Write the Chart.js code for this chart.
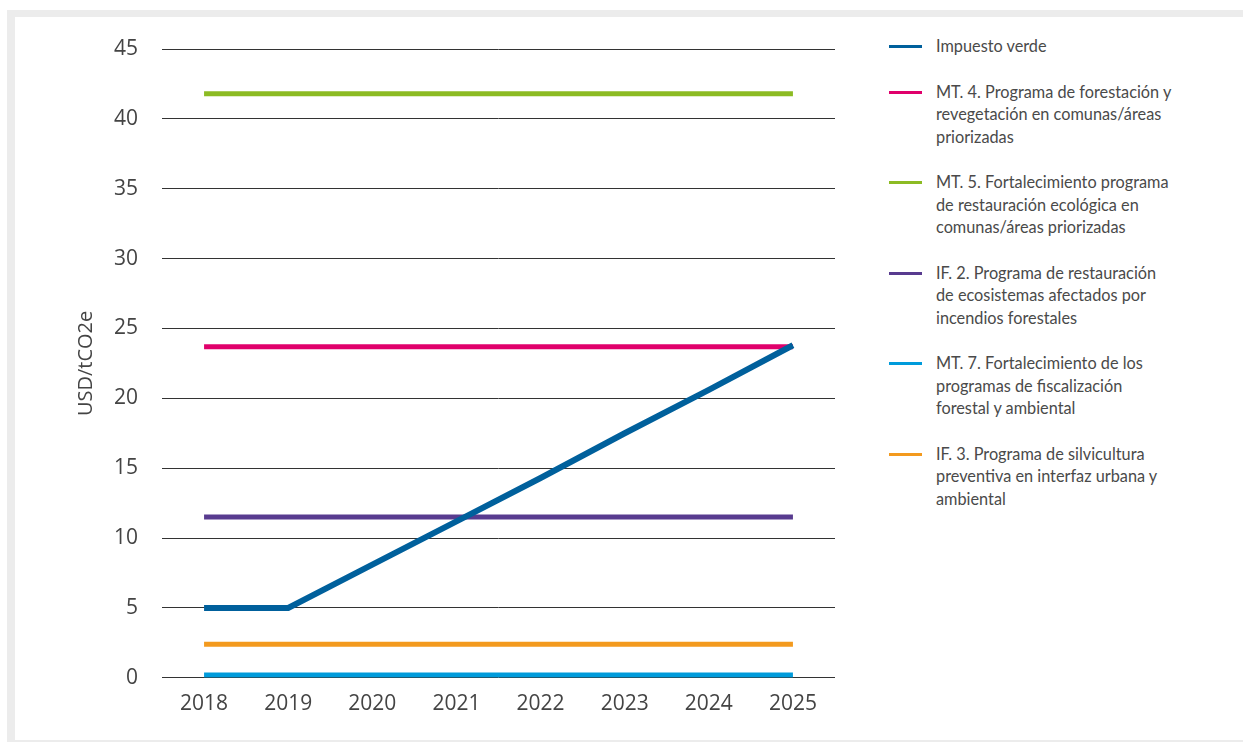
<!DOCTYPE html>
<html lang="es">
<head>
<meta charset="utf-8">
<title>Precio del carbono - USD/tCO2e</title>
<script src="https://cdn.jsdelivr.net/npm/chart.js@4"></script>
<style>
  html, body {
    margin: 0;
    padding: 0;
    background: #ffffff;
  }
  .frame {
    position: absolute;
    left: 7px;
    top: 10px;
    width: 1240px;
    height: 723px;
    border-top: 7px solid #ececec;
    border-left: 8px solid #ececec;
    border-bottom: 2px solid #ececec;
  }
  .chart-box {
    position: absolute;
    left: 0;
    top: 0;
    width: 860px;
    height: 742px;
  }
  #legend {
    position: absolute;
    left: 889px;
    top: 35px;
    font-family: Lato, 'Open Sans', sans-serif;
    font-size: 16.3px;
    line-height: 22.5px;
    color: #4a4a4a;
  }
  #legend .item {
    display: flex;
    align-items: flex-start;
    margin-bottom: 23px;
  }
  #legend .swatch {
    width: 33px;
    height: 3px;
    margin-top: 10px;
    margin-right: 14px;
    flex: none;
  }
  #legend .text {
    white-space: pre-line;
  }
</style>
</head>
<body>
<div class="frame"></div>
<div class="chart-box"><canvas id="myChart"></canvas></div>
<div id="legend"></div>

<script>
  // años del horizonte
  const years = ['2018', '2019', '2020', '2021', '2022', '2023', '2024', '2025'];

  // costos por medida, USD/tCO2e
  const impuestoVerde = [5, 5, 8.1, 11.2, 14.3, 17.5, 20.6, 23.8];
  const mt4 = [23.7, 23.7, 23.7, 23.7, 23.7, 23.7, 23.7, 23.7];
  const mt5 = [41.8, 41.8, 41.8, 41.8, 41.8, 41.8, 41.8, 41.8];
  const if2 = [11.5, 11.5, 11.5, 11.5, 11.5, 11.5, 11.5, 11.5];
  const mt7 = [0.2, 0.2, 0.2, 0.2, 0.2, 0.2, 0.2, 0.2];
  const if3 = [2.4, 2.4, 2.4, 2.4, 2.4, 2.4, 2.4, 2.4];

  const yTicks = [0, 5, 10, 15, 20, 25, 30, 35, 40, 45];

  const series = [
    { label: 'Impuesto verde', data: impuestoVerde, color: '#00609c', width: 6 },
    { label: 'MT. 4. Programa de forestación y\nrevegetación en comunas/áreas\npriorizadas', data: mt4, color: '#e0006b', width: 5 },
    { label: 'MT. 5. Fortalecimiento programa\nde restauración ecológica en\ncomunas/áreas priorizadas', data: mt5, color: '#8cbb23', width: 5 },
    { label: 'IF. 2. Programa de restauración\nde ecosistemas afectados por\nincendios forestales', data: if2, color: '#583b8f', width: 5 },
    { label: 'MT. 7. Fortalecimiento de los\nprogramas de fiscalización\nforestal y ambiental', data: mt7, color: '#009bdb', width: 5 },
    { label: 'IF. 3. Programa de silvicultura\npreventiva en interfaz urbana y\nambiental', data: if3, color: '#f39a1e', width: 5 },
  ];

  const dataChart = {
    labels: years,
    datasets: series.map((s) => ({
      label: s.label,
      data: s.data,
      borderColor: s.color,
      backgroundColor: s.color,
      borderWidth: s.width,
      borderCapStyle: 'butt',
      borderJoinStyle: 'miter',
      pointRadius: 0,
      pointHoverRadius: 0,
      tension: 0,
    })),
  };

  const config = {
    type: 'line',
    data: dataChart,
    options: {
      responsive: true,
      maintainAspectRatio: false,
      animation: false,
      layout: {
        padding: { top: 49, right: 25, bottom: 11, left: 0 },
      },
      plugins: {
        legend: { display: false },
        tooltip: { enabled: false },
      },
      scales: {
        x: {
          offset: true,
          grid: { display: false, drawTicks: false },
          border: { display: false },
          ticks: {
            padding: 14,
            color: '#444444',
            font: { family: "'Open Sans'", size: 21 },
            maxRotation: 0,
          },
        },
        y: {
          min: 0,
          max: 45,
          afterBuildTicks: (scale) => {
            scale.ticks = yTicks.map((v) => ({ value: v }));
          },
          afterFit: (scale) => {
            scale.width = 162;
          },
          grid: {
            color: '#333333',
            lineWidth: 1,
            drawTicks: false,
          },
          border: { display: false },
          ticks: {
            padding: 24,
            color: '#444444',
            font: { family: "'Open Sans'", size: 21 },
          },
          title: {
            display: true,
            text: 'USD/tCO2e',
            color: '#444444',
            font: { family: "'Open Sans'", size: 20 },
            padding: { top: 74, bottom: 0 },
          },
        },
      },
    },
  };

  new Chart(document.getElementById('myChart'), config);

  // leyenda a la derecha, con textos en varias líneas
  const legendEl = document.getElementById('legend');
  series.forEach((s) => {
    const item = document.createElement('div');
    item.className = 'item';
    const sw = document.createElement('span');
    sw.className = 'swatch';
    sw.style.background = s.color;
    const txt = document.createElement('span');
    txt.className = 'text';
    txt.textContent = s.label;
    item.appendChild(sw);
    item.appendChild(txt);
    legendEl.appendChild(item);
  });
</script>
</body>
</html>
